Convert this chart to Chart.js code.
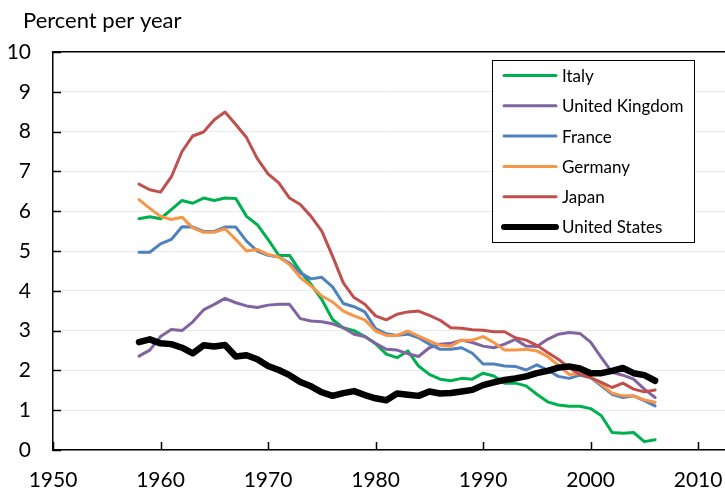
<!DOCTYPE html>
<html>
<head>
<meta charset="utf-8">
<script src="https://cdn.jsdelivr.net/npm/chart.js@4.4.1/dist/chart.umd.min.js"></script>
<style>
  html, body { margin: 0; padding: 0; background: #fff; }
  #wrap { width: 725px; height: 491px; }
</style>
</head>
<body>
<div id="wrap"><canvas id="growthChart" width="725" height="491"></canvas></div>
<script>
// Years 1958-2006
const years = [1958, 1959, 1960, 1961, 1962, 1963, 1964, 1965, 1966, 1967,
    1968, 1969, 1970, 1971, 1972, 1973, 1974, 1975, 1976, 1977,
    1978, 1979, 1980, 1981, 1982, 1983, 1984, 1985, 1986, 1987,
    1988, 1989, 1990, 1991, 1992, 1993, 1994, 1995, 1996, 1997,
    1998, 1999, 2000, 2001, 2002, 2003, 2004, 2005, 2006];

const italy = [5.81, 5.86, 5.81, 6.04, 6.27, 6.20, 6.33, 6.27, 6.33, 6.32,
    5.87, 5.66, 5.29, 4.89, 4.89, 4.49, 4.16, 3.78, 3.28, 3.07,
    3.00, 2.85, 2.67, 2.41, 2.32, 2.49, 2.11, 1.90, 1.78, 1.74,
    1.80, 1.78, 1.93, 1.86, 1.68, 1.68, 1.61, 1.40, 1.21, 1.13,
    1.10, 1.10, 1.04, 0.86, 0.44, 0.42, 0.44, 0.21, 0.26];

const unitedKingdom = [2.36, 2.51, 2.85, 3.03, 3.00, 3.22, 3.52, 3.66, 3.81, 3.70,
    3.62, 3.58, 3.64, 3.66, 3.66, 3.30, 3.24, 3.22, 3.17, 3.07,
    2.91, 2.85, 2.68, 2.53, 2.51, 2.42, 2.35, 2.57, 2.66, 2.68,
    2.76, 2.70, 2.61, 2.57, 2.66, 2.78, 2.61, 2.60, 2.78, 2.91,
    2.95, 2.93, 2.71, 2.32, 1.95, 1.88, 1.78, 1.53, 1.32];

const france = [4.97, 4.97, 5.18, 5.29, 5.61, 5.60, 5.49, 5.49, 5.60, 5.60,
    5.25, 5.00, 4.89, 4.85, 4.70, 4.45, 4.30, 4.34, 4.10, 3.68,
    3.60, 3.47, 3.05, 2.92, 2.88, 2.91, 2.82, 2.66, 2.53, 2.53,
    2.57, 2.43, 2.16, 2.16, 2.11, 2.10, 2.01, 2.14, 2.01, 1.85,
    1.80, 1.88, 1.82, 1.61, 1.40, 1.32, 1.36, 1.24, 1.11];

const germany = [6.29, 6.07, 5.87, 5.79, 5.85, 5.58, 5.47, 5.47, 5.56, 5.29,
    5.00, 5.04, 4.91, 4.85, 4.66, 4.33, 4.12, 3.87, 3.72, 3.49,
    3.37, 3.27, 2.99, 2.88, 2.88, 2.99, 2.86, 2.74, 2.63, 2.61,
    2.76, 2.76, 2.85, 2.70, 2.51, 2.51, 2.53, 2.49, 2.35, 2.13,
    1.90, 1.92, 1.82, 1.65, 1.43, 1.36, 1.36, 1.26, 1.20];

const japan = [6.68, 6.54, 6.48, 6.86, 7.50, 7.89, 7.99, 8.30, 8.49, 8.18,
    7.85, 7.32, 6.94, 6.71, 6.33, 6.17, 5.87, 5.50, 4.87, 4.20,
    3.83, 3.66, 3.37, 3.27, 3.41, 3.47, 3.49, 3.38, 3.26, 3.07,
    3.06, 3.02, 3.01, 2.97, 2.97, 2.82, 2.76, 2.63, 2.45, 2.28,
    2.07, 1.90, 1.82, 1.70, 1.57, 1.68, 1.53, 1.46, 1.51];

const unitedStates = [2.71, 2.78, 2.68, 2.66, 2.57, 2.43, 2.63, 2.60, 2.64, 2.35,
    2.38, 2.28, 2.11, 2.01, 1.88, 1.71, 1.60, 1.45, 1.36, 1.43,
    1.48, 1.38, 1.30, 1.25, 1.42, 1.39, 1.36, 1.47, 1.42, 1.43,
    1.47, 1.51, 1.63, 1.70, 1.76, 1.80, 1.85, 1.93, 1.99, 2.07,
    2.10, 2.05, 1.93, 1.93, 1.99, 2.06, 1.93, 1.88, 1.74];

const seriesNames = ['Italy', 'United Kingdom', 'France', 'Germany', 'Japan', 'United States'];
const seriesValues = [italy, unitedKingdom, france, germany, japan, unitedStates];
const seriesColors = ['#00B050', '#8064A2', '#4F81BD', '#F79646', '#C0504D', '#000000'];
const seriesWidths = [3, 3, 3, 3, 3, 6.5];

const xTicks = [1950, 1960, 1970, 1980, 1990, 2000, 2010];
const yTicks = [0, 1, 2, 3, 4, 5, 6, 7, 8, 9, 10];

const FONT = 'Lato';

// Excel style ticks drawn on the inside of the axes
const innerTicks = {
    id: 'innerTicks',
    afterDraw(chart) {
        const ctx = chart.ctx;
        const area = chart.chartArea;
        const xs = chart.scales.x, ys = chart.scales.y;
        ctx.save();
        ctx.strokeStyle = '#000';
        ctx.lineWidth = 1.5;
        ctx.beginPath();
        yTicks.forEach(v => {
            const py = Math.round(ys.getPixelForValue(v)) + 0.5;
            ctx.moveTo(area.left, py);
            ctx.lineTo(area.left + 8, py);
        });
        xTicks.forEach(v => {
            const px = Math.round(xs.getPixelForValue(v)) + 0.5;
            ctx.moveTo(px, area.bottom);
            ctx.lineTo(px, area.bottom - 8);
        });
        ctx.stroke();
        ctx.restore();
    }
};

// heading above the axis + boxed legend inside the plot
const extras = {
    id: 'extras',
    afterDraw(chart) {
        const ctx = chart.ctx;
        const area = chart.chartArea;
        ctx.save();
        ctx.fillStyle = '#000';
        ctx.font = '22px ' + FONT;
        ctx.textBaseline = 'alphabetic';
        ctx.textAlign = 'left';
        ctx.fillText('Percent per year', 23, 28);

        const bx = area.left + 439, by = area.top + 8;
        const bw = 202, bh = 182;
        ctx.fillStyle = '#fff';
        ctx.fillRect(bx, by, bw, bh);
        ctx.strokeStyle = '#000';
        ctx.lineWidth = 1;
        ctx.strokeRect(bx + 0.5, by + 0.5, bw, bh);

        ctx.font = '17px ' + FONT;
        ctx.textBaseline = 'middle';
        chart.data.datasets.forEach((ds, i) => {
            const cy = by + 15.5 + i * 30.3;
            ctx.beginPath();
            ctx.strokeStyle = ds.borderColor;
            ctx.lineWidth = ds.borderWidth === 3 ? 3 : 6;
            ctx.lineCap = 'round';
            ctx.moveTo(bx + 12, cy);
            ctx.lineTo(bx + 64, cy);
            ctx.stroke();
            ctx.fillStyle = '#000';
            ctx.fillText(ds.label, bx + 70, cy + 1);
        });
        ctx.restore();
    }
};

const ctx = document.getElementById('growthChart').getContext('2d');

new Chart(ctx, {
    type: 'line',
    data: {
        datasets: seriesNames.map((name, i) => ({
            label: name,
            data: years.map((yr, j) => ({ x: yr, y: seriesValues[i][j] })),
            borderColor: seriesColors[i],
            backgroundColor: seriesColors[i],
            borderWidth: seriesWidths[i],
            pointRadius: 0,
            tension: 0,
            borderJoinStyle: 'round',
            borderCapStyle: 'round',
            order: seriesNames.length - 1 - i
        }))
    },
    options: {
        responsive: false,
        animation: false,
        layout: {
            padding: { top: 52, left: 7, right: 0, bottom: 0 }
        },
        plugins: {
            legend: { display: false },
            tooltip: { enabled: false },
            title: { display: false }
        },
        scales: {
            x: {
                type: 'linear',
                min: 1950,
                max: 2012.5,
                grid: { display: false, drawTicks: false },
                border: { display: true, color: '#000', width: 1.5 },
                ticks: {
                    stepSize: 10,
                    includeBounds: false,
                    maxRotation: 0,
                    padding: 20,
                    color: '#000',
                    font: { family: FONT, size: 21, lineHeight: 1 },
                    callback: v => String(v)
                },
                afterBuildTicks: scale => {
                    scale.ticks = xTicks.map(v => ({ value: v }));
                },
                afterFit: scale => {
                    scale.height = 41;
                    scale.paddingLeft = 0;
                    scale.paddingRight = 0;
                }
            },
            y: {
                min: 0,
                max: 10,
                grid: {
                    drawTicks: false,
                    color: c => (c.tick && c.tick.value === 10) ? '#000' : '#e9e9e9',
                    lineWidth: c => (c.tick && c.tick.value === 10) ? 1.5 : 1
                },
                border: { display: true, color: '#000', width: 1.5 },
                ticks: {
                    stepSize: 1,
                    padding: 22,
                    color: '#000',
                    font: { family: FONT, size: 21 },
                    callback: v => String(v)
                },
                afterBuildTicks: scale => {
                    scale.ticks = yTicks.map(v => ({ value: v }));
                },
                afterFit: scale => {
                    scale.width = 46;
                    scale.paddingTop = 0;
                    scale.paddingBottom = 0;
                }
            }
        }
    },
    plugins: [innerTicks, extras]
});
</script>
</body>
</html>
